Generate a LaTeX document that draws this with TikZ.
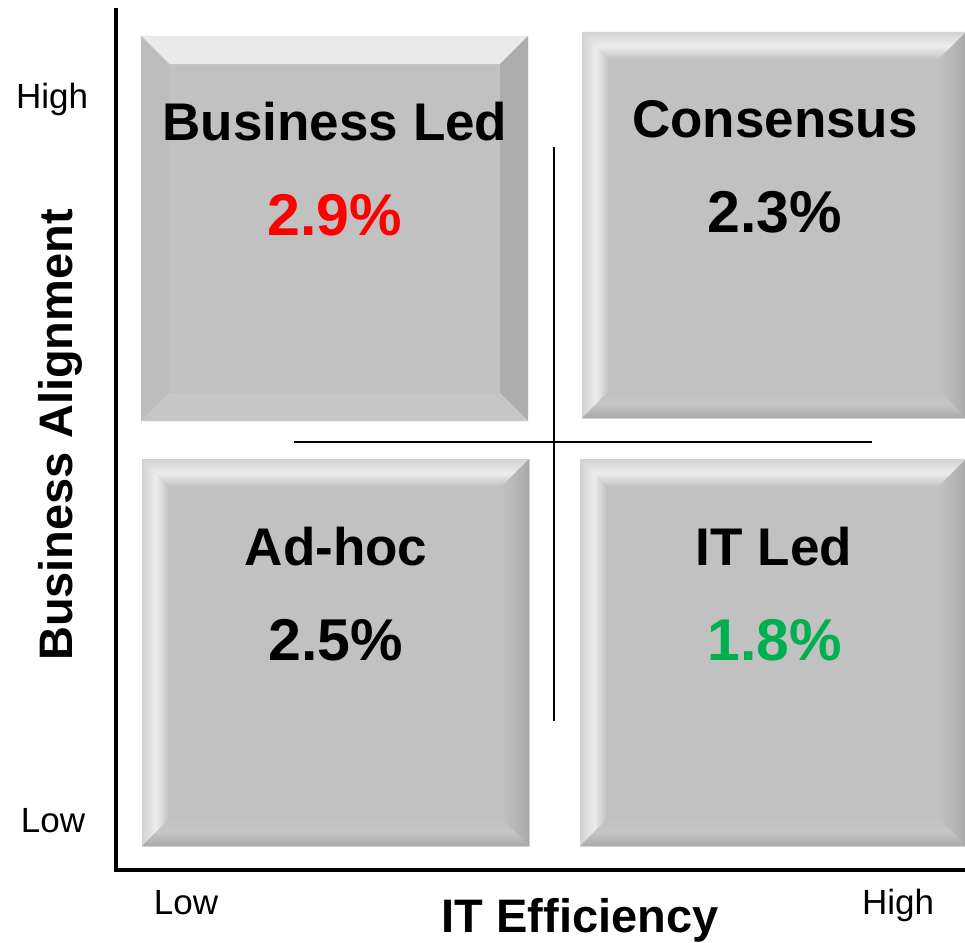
\documentclass[tikz,border=0pt]{standalone}
\usepackage{fontspec}
\setmainfont{Liberation Sans}
\usetikzlibrary{calc}
\definecolor{face}{HTML}{C1C1C1}
\definecolor{flattop}{HTML}{EAEAEA}
\definecolor{flatleft}{HTML}{BDBDBD}
\definecolor{flatright}{HTML}{ADADAD}
\definecolor{flatbottom}{HTML}{C6C6C6}
\definecolor{hilite}{HTML}{EDEDED}
\definecolor{edgelight}{HTML}{D2D2D2}
\definecolor{edgedark}{HTML}{A8A8A8}
\definecolor{midgray}{HTML}{BBBBBB}
\definecolor{redval}{HTML}{FF0000}
\definecolor{greenval}{HTML}{00B050}
\tikzset{
  x=1pt, y=-1pt,
  titletext/.style={font=\bfseries\fontsize{53}{60}\selectfont, anchor=base, inner sep=0pt},
  valuetext/.style={font=\bfseries\fontsize{59}{66}\selectfont, anchor=base, inner sep=0pt},
  ticktext/.style={font=\fontsize{35}{40}\selectfont, anchor=base, inner sep=0pt},
  axistext/.style={font=\bfseries\fontsize{47}{54}\selectfont, anchor=base, inner sep=0pt},
  axisline/.style={line width=4pt, line cap=rect},
  crossline/.style={line width=2pt},
}
% #1 name, #2 x1, #3 y1, #4 x2, #5 y2, #6 bevel
\newcommand\mkcorners[6]{%
  \coordinate (#1-nw) at (#2,#3);
  \coordinate (#1-ne) at (#4,#3);
  \coordinate (#1-sw) at (#2,#5);
  \coordinate (#1-se) at (#4,#5);
  \coordinate (#1-inw) at ($(#1-nw)+(#6,#6)$);
  \coordinate (#1-ine) at ($(#1-ne)+(-#6,#6)$);
  \coordinate (#1-isw) at ($(#1-sw)+(#6,-#6)$);
  \coordinate (#1-ise) at ($(#1-se)+(-#6,-#6)$);
}
\newcommand\roundbox[6]{%
  \mkcorners{#1}{#2}{#3}{#4}{#5}{#6}
  \fill[face] (#1-nw) rectangle (#1-se);
  \shade[top color=edgelight, bottom color=face, middle color=hilite]
    (#1-nw) -- (#1-ne) -- (#1-ine) -- (#1-inw) -- cycle;
  \shade[left color=edgelight, right color=midgray, middle color=hilite]
    (#1-nw) -- (#1-inw) -- (#1-isw) -- (#1-sw) -- cycle;
  \shade[left color=face, right color=edgedark, middle color=face!95!black]
    (#1-ne) -- (#1-ine) -- (#1-ise) -- (#1-se) -- cycle;
  \shade[top color=face, bottom color=edgedark, middle color=flatbottom]
    (#1-sw) -- (#1-isw) -- (#1-ise) -- (#1-se) -- cycle;
  \draw[edgelight, line width=0.8pt] (#1-nw) rectangle (#1-se);
}
\newcommand\flatbox[6]{%
  \mkcorners{#1}{#2}{#3}{#4}{#5}{#6}
  \fill[face] (#1-nw) rectangle (#1-se);
  \fill[flattop] (#1-nw) -- (#1-ne) -- (#1-ine) -- (#1-inw) -- cycle;
  \fill[flatleft] (#1-nw) -- (#1-inw) -- (#1-isw) -- (#1-sw) -- cycle;
  \fill[flatright] (#1-ne) -- (#1-ine) -- (#1-ise) -- (#1-se) -- cycle;
  \fill[flatbottom] (#1-sw) -- (#1-isw) -- (#1-ise) -- (#1-se) -- cycle;
}
\begin{document}
\begin{tikzpicture}
\useasboundingbox (0,0) rectangle (965,942);
\fill[white] (0,0) rectangle (965,942);

% quadrant boxes
\flatbox{bl}{141}{36}{528}{421}{28}
\roundbox{cs}{582}{32}{966}{418}{28}
\roundbox{ah}{142}{459}{529}{846}{28}
\roundbox{it}{580}{459}{966}{846}{28}

% crosshair
\coordinate (vtop) at (554,147);
\coordinate (vbot) at (554,721);
\coordinate (hleft) at (294,442);
\coordinate (hright) at (872,442);
\draw[crossline] (vtop) -- (vbot);
\draw[crossline] (hleft) -- (hright);

% axes
\coordinate (ytop) at (116,10);
\coordinate (origin) at (116,870);
\coordinate (xend) at (967,870);
\draw[axisline] (ytop) -- (origin) -- (xend);

% box texts
\node[titletext] (bl-title) at (335,140) {Business Led};
\node[valuetext, text=redval] (bl-val) at (335,235) {2.9\%};
\node[titletext] (cs-title) at (775,137) {Consensus};
\node[valuetext] (cs-val) at (775,232) {2.3\%};
\node[titletext] (ah-title) at (336,565) {Ad-hoc};
\node[valuetext] (ah-val) at (336,660) {2.5\%};
\node[titletext] (it-title) at (774,565) {IT Led};
\node[valuetext, text=greenval] (it-val) at (775,660) {1.8\%};

% axis ticks and labels
\node[ticktext] (yhigh) at (52,108) {High};
\node[ticktext] (ylow) at (53,832) {Low};
\node[ticktext] (xlow) at (186,914) {Low};
\node[ticktext] (xhigh) at (898,914) {High};
\node[axistext] (xlabel) at (580,932) {IT Efficiency};
\node[axistext, rotate=90] (ylabel) at (72,435) {Business Alignment};
\end{tikzpicture}
\end{document}
